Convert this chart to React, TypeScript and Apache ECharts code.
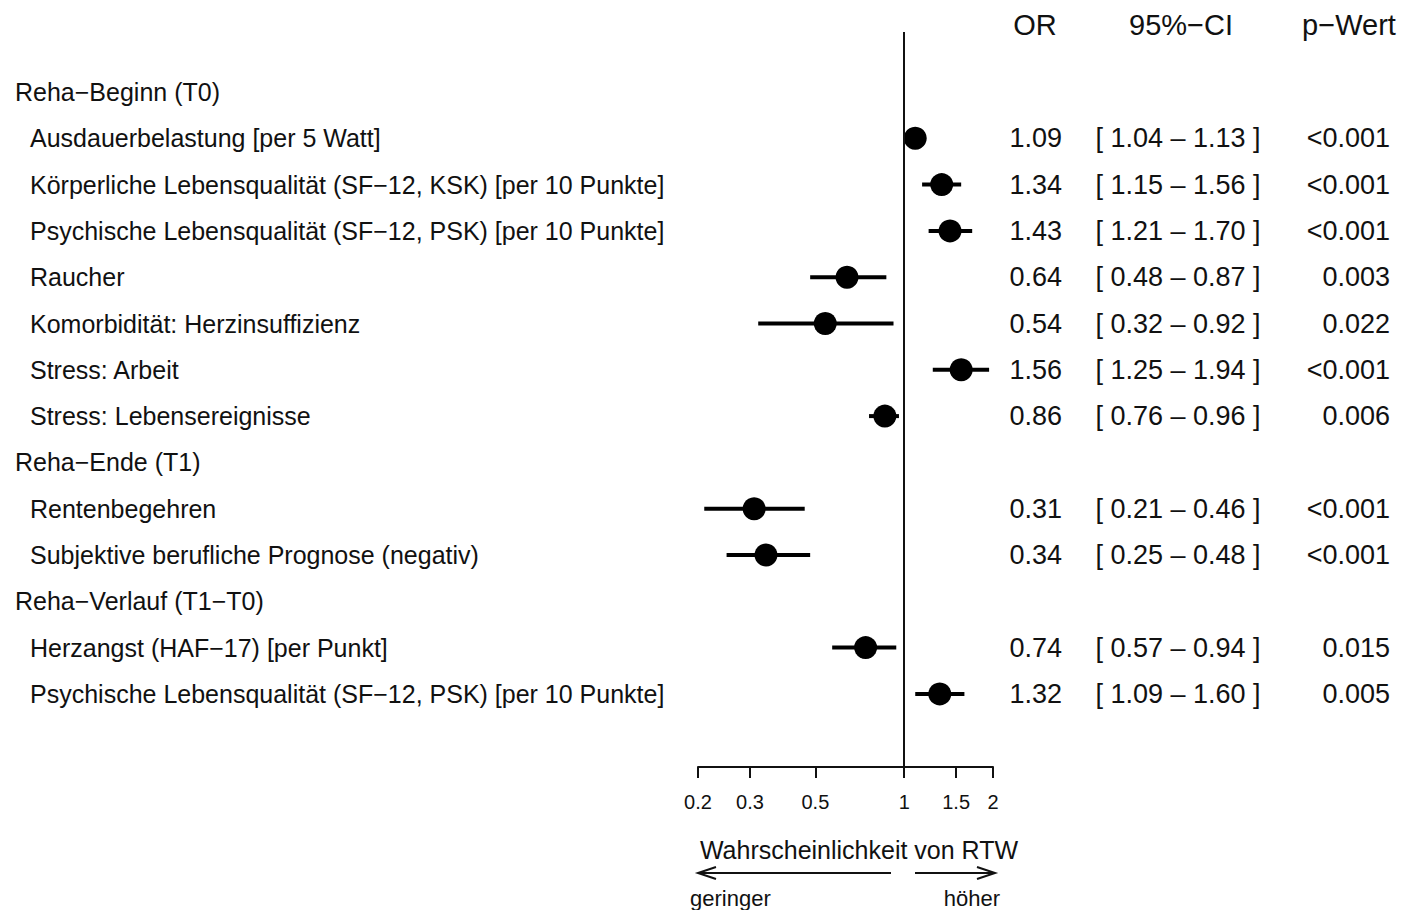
import React, { useEffect, useRef } from "react";
import * as echarts from "echarts";

// ---- data ----
const groupHeaders = ["Reha−Beginn (T0)", "Reha−Ende (T1)", "Reha−Verlauf (T1−T0)"];
const groupStartRows = [0, 8, 11];

const labels = [
  "Ausdauerbelastung [per 5 Watt]",
  "Körperliche Lebensqualität (SF−12, KSK) [per 10 Punkte]",
  "Psychische Lebensqualität (SF−12, PSK) [per 10 Punkte]",
  "Raucher",
  "Komorbidität: Herzinsuffizienz",
  "Stress: Arbeit",
  "Stress: Lebensereignisse",
  "Rentenbegehren",
  "Subjektive berufliche Prognose (negativ)",
  "Herzangst (HAF−17) [per Punkt]",
  "Psychische Lebensqualität (SF−12, PSK) [per 10 Punkte]",
];
const itemRows = [1, 2, 3, 4, 5, 6, 7, 9, 10, 12, 13];
const orValues = [1.09, 1.34, 1.43, 0.64, 0.54, 1.56, 0.86, 0.31, 0.34, 0.74, 1.32];
const ciLower = [1.04, 1.15, 1.21, 0.48, 0.32, 1.25, 0.76, 0.21, 0.25, 0.57, 1.09];
const ciUpper = [1.13, 1.56, 1.7, 0.87, 0.92, 1.94, 0.96, 0.46, 0.48, 0.94, 1.6];
const pValues = ["<0.001", "<0.001", "<0.001", "0.003", "0.022", "<0.001", "0.006", "<0.001", "<0.001", "0.015", "0.005"];

const tickValues = [0.2, 0.3, 0.5, 1, 1.5, 2];
const xRange = [0.2, 2];
const columnHeaders = ["OR", "95%−CI", "p−Wert"];

const FONT = '"Liberation Sans", Arial, Helvetica, sans-serif';
const INK = "#111";

export default function App() {
  const ref = useRef<HTMLDivElement>(null);

  useEffect(() => {
    if (!ref.current) return;
    const chart = echarts.init(ref.current, null, { renderer: "svg" });

    const gridTop = 32;
    const gridBottomPx = 767;
    const firstRowPx = 92;
    const rowStep = 46.3;
    const yMin = (gridTop - firstRowPx) / rowStep;
    const yMax = (gridBottomPx - firstRowPx) / rowStep;

    const fmt = (n: number) => n.toFixed(2);

    const ciData = orValues.map((v, i) => [
      Math.log10(ciLower[i]),
      Math.log10(ciUpper[i]),
      Math.log10(v),
      itemRows[i],
    ]);

    type Row = { row: number; kind: "header" | "item"; idx: number };
    const tableRows: Row[] = [];
    groupStartRows.forEach((r, i) => tableRows.push({ row: r, kind: "header", idx: i }));
    itemRows.forEach((r, i) => tableRows.push({ row: r, kind: "item", idx: i }));

    const option: any = {
      animation: false,
      backgroundColor: "#fff",
      grid: { left: 698, right: 1402 - 993, top: gridTop, bottom: 910 - gridBottomPx, containLabel: false },
      xAxis: {
        type: "value",
        min: Math.log10(xRange[0]),
        max: Math.log10(xRange[1]),
        axisLine: { show: true, onZero: false, lineStyle: { color: INK, width: 2 } },
        axisTick: {
          show: true,
          length: 11,
          customValues: tickValues.map((t) => Math.log10(t)),
          lineStyle: { color: INK, width: 2 },
        },
        axisLabel: {
          show: true,
          customValues: tickValues.map((t) => Math.log10(t)),
          formatter: (v: number) => String(Number(Math.pow(10, v).toFixed(2))),
          fontSize: 20,
          fontFamily: FONT,
          color: INK,
          margin: 25,
        },
        splitLine: { show: false },
      },
      yAxis: {
        type: "value",
        inverse: true,
        min: yMin,
        max: yMax,
        show: false,
      },
      series: [
        {
          type: "custom",
          data: ciData,
          encode: { x: [0, 1, 2], y: 3 },
          renderItem: (params: any, api: any) => {
            const y = api.value(3);
            const p1 = api.coord([api.value(0), y]);
            const p2 = api.coord([api.value(1), y]);
            const pc = api.coord([api.value(2), y]);
            return {
              type: "group",
              children: [
                {
                  type: "line",
                  shape: { x1: p1[0], y1: p1[1], x2: p2[0], y2: p2[1] },
                  style: { stroke: "#000", lineWidth: 4 },
                },
                {
                  type: "circle",
                  shape: { cx: pc[0], cy: pc[1], r: 11.5 },
                  style: { fill: "#000" },
                },
              ],
            };
          },
          markLine: {
            silent: true,
            symbol: "none",
            label: { show: false },
            lineStyle: { color: INK, width: 2, type: "solid" },
            data: [{ xAxis: 0 }],
          },
          z: 3,
        },
        {
          type: "custom",
          data: tableRows.map((r) => [0, r.row]),
          encode: { x: 0, y: 1 },
          clip: false,
          renderItem: (params: any, api: any) => {
            const r = tableRows[params.dataIndex];
            const y = api.coord([0, r.row])[1];
            if (r.kind === "header") {
              return {
                type: "text",
                style: {
                  text: groupHeaders[r.idx],
                  x: 15,
                  y,
                  fill: INK,
                  fontSize: 25,
                  fontFamily: FONT,
                  align: "left",
                  verticalAlign: "middle",
                },
              };
            }
            const i = r.idx;
            const base = { fill: INK, fontFamily: FONT, verticalAlign: "middle" };
            return {
              type: "group",
              children: [
                { type: "text", style: { ...base, text: labels[i], x: 30, y, fontSize: 25, align: "left" } },
                { type: "text", style: { ...base, text: fmt(orValues[i]), x: 1062, y, fontSize: 27, align: "right" } },
                {
                  type: "text",
                  style: {
                    ...base,
                    text: `[ ${fmt(ciLower[i])} – ${fmt(ciUpper[i])} ]`,
                    x: 1178,
                    y,
                    fontSize: 27,
                    align: "center",
                  },
                },
                { type: "text", style: { ...base, text: pValues[i], x: 1390, y, fontSize: 27, align: "right" } },
              ],
            };
          },
        },
      ],
      graphic: [
        { type: "text", style: { text: columnHeaders[0], x: 1035, y: 25, fill: INK, fontSize: 29, fontFamily: FONT, align: "center", verticalAlign: "middle" } },
        { type: "text", style: { text: columnHeaders[1], x: 1181, y: 25, fill: INK, fontSize: 29, fontFamily: FONT, align: "center", verticalAlign: "middle" } },
        { type: "text", style: { text: columnHeaders[2], x: 1349, y: 25, fill: INK, fontSize: 29, fontFamily: FONT, align: "center", verticalAlign: "middle" } },
        { type: "text", style: { text: "Wahrscheinlichkeit von RTW", x: 859, y: 850, fill: INK, fontSize: 25, fontFamily: FONT, align: "center", verticalAlign: "middle" } },
        { type: "line", shape: { x1: 891, y1: 873, x2: 698, y2: 873 }, style: { stroke: INK, lineWidth: 2 } },
        { type: "polyline", shape: { points: [[716, 867], [698, 873], [716, 879]] }, style: { stroke: INK, lineWidth: 2, fill: "none" } },
        { type: "line", shape: { x1: 915, y1: 873, x2: 995, y2: 873 }, style: { stroke: INK, lineWidth: 2 } },
        { type: "polyline", shape: { points: [[977, 867], [995, 873], [977, 879]] }, style: { stroke: INK, lineWidth: 2, fill: "none" } },
        { type: "text", style: { text: "geringer", x: 690, y: 898, fill: INK, fontSize: 22, fontFamily: FONT, align: "left", verticalAlign: "middle" } },
        { type: "text", style: { text: "höher", x: 1000, y: 898, fill: INK, fontSize: 22, fontFamily: FONT, align: "right", verticalAlign: "middle" } },
      ],
    };

    chart.setOption(option);
    return () => chart.dispose();
  }, []);

  return (
    <div
      ref={ref}
      style={{ position: "fixed", left: 0, top: 0, width: 1402, height: 910, background: "#fff" }}
    />
  );
}
